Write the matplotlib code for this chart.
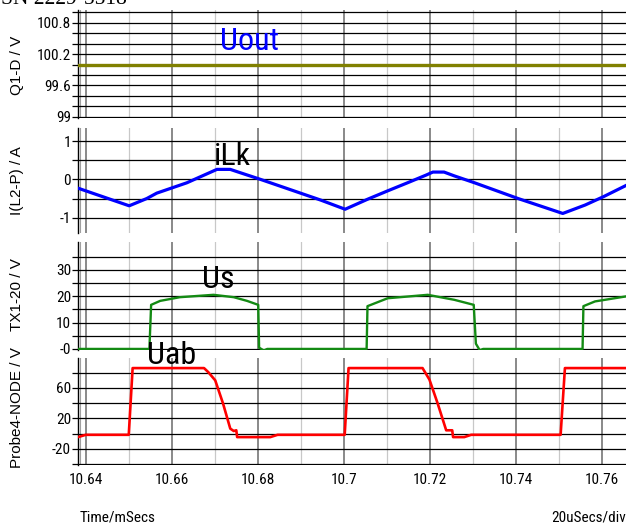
import matplotlib
matplotlib.use("Agg")
import matplotlib.pyplot as plt
from matplotlib import font_manager as fm
import numpy as np

# ------------------------------------------------------
# Data (time in ms)
# ------------------------------------------------------
T_UOUT = [10.6382, 10.7656]
UOUT = [100.0, 100.0]

T_ILK = [10.6382, 10.6501, 10.6542, 10.6565, 10.6635, 10.6705, 10.6736, 10.6752,
         10.6806, 10.6946, 10.7003, 10.7055, 10.7102, 10.7148, 10.7191, 10.7207,
         10.7233, 10.7257, 10.7304, 10.7405, 10.7509, 10.7561, 10.7604, 10.7656]
ILK = [-0.23, -0.69, -0.50, -0.36, -0.09, 0.26, 0.26, 0.20,
       0.00, -0.54, -0.78, -0.52, -0.30, -0.09, 0.11, 0.19,
       0.19, 0.09, -0.09, -0.50, -0.89, -0.67, -0.45, -0.16]

T_US = [10.6382, 10.6548, 10.6552, 10.6573, 10.6619, 10.6697, 10.6744, 10.6775,
        10.6801, 10.6803, 10.6814, 10.6822, 10.7053, 10.7055, 10.7102, 10.7195,
        10.7257, 10.7302, 10.7307, 10.7316, 10.7324, 10.7555, 10.7557, 10.7584,
        10.7656]
US = [0.0, 0.0, 16.7, 18.2, 19.6, 20.5, 19.6, 18.2,
      16.7, 0.5, -0.6, 0.0, 0.0, 16.2, 19.2, 20.5,
      18.6, 16.7, 2.0, -0.5, 0.0, 0.0, 16.2, 18.0,
      19.9]

T_UAB = [10.6382, 10.6400, 10.6500, 10.6509, 10.6675, 10.6685, 10.6701, 10.6719,
         10.6736, 10.6744, 10.6750, 10.6752, 10.6829, 10.6846, 10.7002, 10.7011,
         10.7183, 10.7199, 10.7218, 10.7238, 10.7252, 10.7254, 10.7280, 10.7296,
         10.7504, 10.7514, 10.7656]
UAB = [-4.5, -1.5, -1.5, 85.8, 85.8, 80.4, 69.8, 39.8,
       6.6, 3.5, 4.4, -4.5, -4.5, -1.5, -1.5, 85.8,
       85.8, 70.8, 39.8, 4.4, 4.4, -4.5, -4.5, -1.5,
       -1.5, 85.8, 85.8]

X_TICKS = [10.64, 10.66, 10.68, 10.70, 10.72, 10.74, 10.76]
X_LABELS = ["10.64", "10.66", "10.68", "10.7", "10.72", "10.74", "10.76"]

# ------------------------------------------------------
# Layout / style
# ------------------------------------------------------
W, H = 627, 526
XLIM = (10.6382, 10.7656)


def pick_narrow_font():
    """Try to find a condensed sans face; fall back to Liberation Sans"""
    prefs = ["Liberation Sans Narrow", "Arial Narrow", "Roboto Condensed",
             "Open Sans Condensed", "DejaVu Sans", "Noto Sans", "Roboto", "Open Sans"]
    for name in prefs:
        for f in fm.fontManager.ttflist:
            if f.name != name or f.style != "normal":
                continue
            if f.weight not in (400, "normal", "regular", "book"):
                continue
            narrow = f.stretch in ("condensed", "semi-condensed", "extra-condensed") or \
                "narrow" in f.fname.lower() or "condensed" in f.fname.lower()
            if narrow:
                return fm.FontProperties(fname=f.fname), True
    return fm.FontProperties(family="Liberation Sans"), False


NARROW_FP, IS_NARROW = pick_narrow_font()


def nfont(size):
    fp = NARROW_FP.copy()
    # regular-width fallback is set a little smaller so widths stay close
    fp.set_size(size if IS_NARROW else size * 0.9)
    return fp


def box(left, top, right, bottom):
    """pixel box -> figure fraction rect"""
    return [left / W, 1 - bottom / H, (right - left) / W, (bottom - top) / H]


def fx(px):
    return px / W


def fy(py):
    return 1 - py / H


PANELS = [
    dict(rect=box(78, 10, 626, 118), ylim=(98.98, 101.04),
         grid=np.round(np.arange(99.0, 101.01, 0.2), 1),
         labels={99.0: "99", 99.6: "99.6", 100.2: "100.2", 100.8: "100.8"},
         t=T_UOUT, v=UOUT, color="#808000", lw=2.4, ylabel="Q1-D / V", ly=65),
    dict(rect=box(78, 128, 626, 233), ylim=(-1.40, 1.34),
         grid=[-1.0, -0.5, 0.0, 0.5, 1.0],
         labels={-1.0: "-1", 0.0: "0", 1.0: "1"},
         t=T_ILK, v=ILK, color="#0000ff", lw=2.3, ylabel="I(L2-P) / A", ly=181),
    dict(rect=box(78, 242, 626, 350), ylim=(-0.4, 40.5),
         grid=[0, 5, 10, 15, 20, 25, 30, 35],
         labels={0: "-0", 10: "10", 20: "20", 30: "30"},
         t=T_US, v=US, color="#138a13", lw=1.7, ylabel="TX1-20 / V", ly=295),
    dict(rect=box(78, 358, 626, 465), ylim=(-41.0, 99.0),
         grid=[-40, -20, 0, 20, 40, 60, 80],
         labels={-20: "-20", 20: "20", 60: "60"},
         t=T_UAB, v=UAB, color="#ff0000", lw=1.9, ylabel="Probe4-NODE / V", ly=408),
]


def main():
    fig = plt.figure(figsize=(W / 100, H / 100), dpi=100)

    for i, p in enumerate(PANELS):
        ax = fig.add_axes(p["rect"])
        ax.set_xlim(*XLIM)
        ax.set_ylim(*p["ylim"])

        # vertical grid: dark every 20us, light in between
        for t in np.round(np.arange(10.64, 10.761, 0.01), 2):
            even = int(round(t * 100)) % 2 == 0
            ax.axvline(t, color="#808080" if even else "#c8c8c8",
                       lw=1.3 if even else 0.9, zorder=1)
        ax.axvline(XLIM[0] + 0.0004, color="#a0a0a0", lw=0.8, zorder=1)

        # horizontal grid
        for g in p["grid"]:
            ax.axhline(g, color="black", lw=0.9, zorder=1)

        ax.plot(p["t"], p["v"], color=p["color"], lw=p["lw"], zorder=3,
                solid_joinstyle="round")

        ax.set_yticks(p["grid"])
        ax.set_yticklabels([p["labels"].get(g, "") for g in p["grid"]],
                           fontproperties=nfont(11))
        ax.tick_params(axis="y", direction="out", length=4, width=0.9, pad=1)

        ax.set_xticks(X_TICKS)
        if i == len(PANELS) - 1:
            ax.set_xticklabels(X_LABELS, fontproperties=nfont(11))
        else:
            ax.set_xticklabels([])
        ax.tick_params(axis="x", length=0, pad=6)

        for s in ["top", "right", "bottom"]:
            ax.spines[s].set_visible(False)
        ax.spines["left"].set_linewidth(1.0)
        ax.patch.set_alpha(0)

        fig.text(fx(17), fy(p["ly"]), p["ylabel"], rotation=90, ha="center",
                 va="center", fontsize=11, fontfamily="Liberation Sans")

    # trace names
    fig.text(fx(250), fy(42), "Uout", color="#0000ff", fontproperties=nfont(23),
             ha="center", va="center")
    fig.text(fx(232), fy(157), "iLk", color="black", fontproperties=nfont(23),
             ha="center", va="center")
    fig.text(fx(218), fy(280), "Us", color="black", fontproperties=nfont(23),
             ha="center", va="center")
    fig.text(fx(172), fy(356), "Uab", color="black", fontproperties=nfont(23),
             ha="center", va="center")

    fig.text(fx(80), fy(518), "Time/mSecs", fontproperties=nfont(11),
             ha="left", va="center")
    fig.text(fx(626), fy(518), "20uSecs/div", fontproperties=nfont(11),
             ha="right", va="center")

    # cut-off journal header
    fig.text(fx(127), fy(4), "ISSN 2229-5518", fontsize=15.5,
             fontfamily="Liberation Serif", ha="right", va="baseline")

    fig.savefig("out.png", dpi=100)


if __name__ == "__main__":
    main()
